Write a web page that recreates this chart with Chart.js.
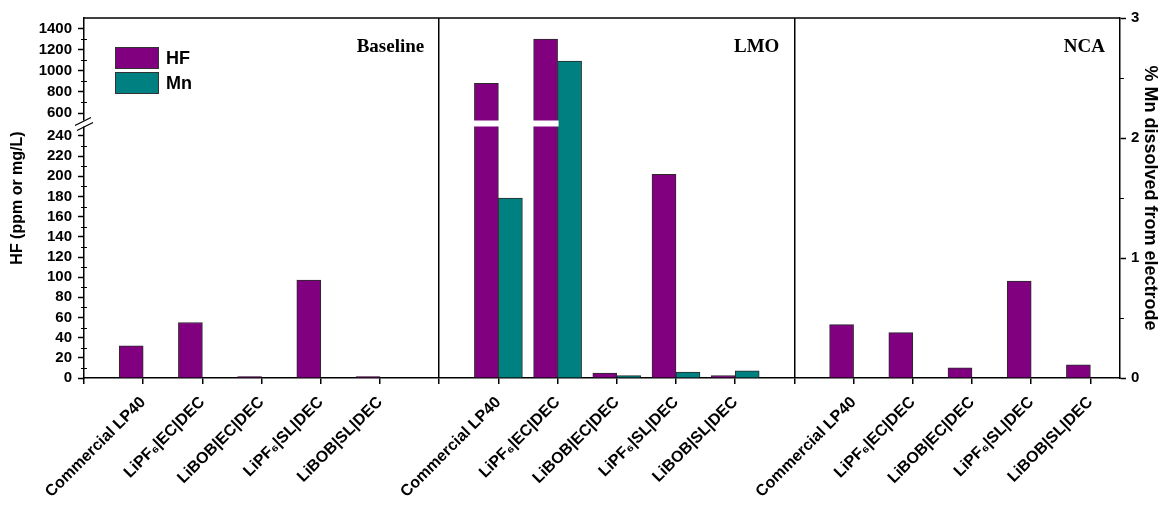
<!DOCTYPE html>
<html>
<head>
<meta charset="utf-8">
<script src="https://cdn.jsdelivr.net/npm/chart.js@4.4.1/dist/chart.umd.min.js"></script>
<style>
  html, body { margin: 0; padding: 0; background: #fff; }
  #wrap { width: 1162px; height: 506px; position: relative; }
</style>
</head>
<body>
<div id="wrap"><canvas id="chart" width="1162" height="506"></canvas></div>
<script>
// ---- data -----------------------------------------------------------------
const panels = ['Baseline', 'LMO', 'NCA'];
const electrolytes = ['Commercial LP40', 'LiPF\u2086|EC|DEC', 'LiBOB|EC|DEC', 'LiPF\u2086|SL|DEC', 'LiBOB|SL|DEC'];

// HF content, ppm (mg/L)
const hfBaseline = [32, 55, 1.5, 97, 1.5];
const hfLMO      = [880, 1300, 5, 202, 2.5];
const hfNCA      = [53, 45, 10, 96, 13];

// Mn dissolved from the electrode, %
const mnBaseline = [null, null, null, null, null];
const mnLMO      = [1.5, 2.64, 0.02, 0.05, 0.06];
const mnNCA      = [null, null, null, null, null];

// axis ticks
const hfTicksLower = [0, 20, 40, 60, 80, 100, 120, 140, 160, 180, 200, 220, 240];
const hfTicksUpper = [600, 800, 1000, 1200, 1400];
const mnTicks = [0, 1, 2, 3];

// ---- broken HF axis ---------------------------------------------------------
const BREAK_LOW = 240, BREAK_HIGH = 600, HF_MAX = 1500;
const SHARE_LOWER = 242 / 360, SHARE_GAP = 23 / 360; // remaining share is the upper span

function hfToFraction(v) {
  if (v <= BREAK_LOW) return v / BREAK_LOW * SHARE_LOWER;
  if (v < BREAK_HIGH) return SHARE_LOWER + (v - BREAK_LOW) / (BREAK_HIGH - BREAK_LOW) * SHARE_GAP;
  return SHARE_LOWER + SHARE_GAP + (v - BREAK_HIGH) / (HF_MAX - BREAK_HIGH) * (1 - SHARE_LOWER - SHARE_GAP);
}
function fractionToHf(f) {
  if (f <= SHARE_LOWER) return f / SHARE_LOWER * BREAK_LOW;
  if (f < SHARE_LOWER + SHARE_GAP) return BREAK_LOW + (f - SHARE_LOWER) / SHARE_GAP * (BREAK_HIGH - BREAK_LOW);
  return BREAK_HIGH + (f - SHARE_LOWER - SHARE_GAP) / (1 - SHARE_LOWER - SHARE_GAP) * (HF_MAX - BREAK_HIGH);
}

class BrokenLinearScale extends Chart.LinearScale {
  static id = 'brokenLinear';
  buildTicks() {
    return hfTicksLower.concat(hfTicksUpper).map(v => ({ value: v }));
  }
  getPixelForValue(value) {
    return this.bottom - hfToFraction(value) * (this.bottom - this.top);
  }
  getValueForPixel(pixel) {
    return fractionToHf((this.bottom - pixel) / (this.bottom - this.top));
  }
}
Chart.register(BrokenLinearScale);

// ---- layout of the category slots --------------------------------------------
const SLOTS_PER_PANEL = electrolytes.length + 1;
const slotOf = (p, i) => p * SLOTS_PER_PANEL + 1 + i;
const toPoints = series => series.flatMap((vals, p) => vals.map((v, i) => ({ x: slotOf(p, i), y: v })));

const SANS = '"Liberation Sans", Arial, sans-serif';
const SERIF = '"Liberation Serif", "Times New Roman", serif';

const framePlugin = {
  id: 'frame',
  afterDatasetsDraw(chart) {
    // white cut through bars that cross the axis break
    const { ctx } = chart;
    const y = chart.scales.yHF;
    const yMid = (y.getPixelForValue(BREAK_LOW) + y.getPixelForValue(BREAK_HIGH)) / 2;
    const meta = chart.getDatasetMeta(0);
    ctx.save();
    ctx.fillStyle = '#fff';
    meta.data.forEach((bar, idx) => {
      const v = chart.data.datasets[0].data[idx].y;
      if (v > BREAK_HIGH) {
        ctx.fillRect(bar.x - bar.width / 2 - 1, yMid - 4, bar.width + 2, 6);
      }
    });
    ctx.restore();
  },
  afterDraw(chart) {
    const { ctx, chartArea: a } = chart;
    const yHF = chart.scales.yHF, yMn = chart.scales.yMn, x = chart.scales.x;
    ctx.save();
    ctx.strokeStyle = '#000';
    ctx.lineWidth = 1.5;
    // top border
    ctx.beginPath();
    ctx.moveTo(a.left, a.top);
    ctx.lineTo(a.right, a.top);
    ctx.stroke();

    // minor ticks on HF axis
    ctx.lineWidth = 1;
    const minorHF = [];
    for (let v = 10; v < BREAK_LOW; v += 20) minorHF.push(v);
    for (let v = 700; v < HF_MAX; v += 200) minorHF.push(v);
    ctx.beginPath();
    minorHF.forEach(v => {
      const py = Math.round(yHF.getPixelForValue(v)) + 0.5;
      ctx.moveTo(a.left - 3, py);
      ctx.lineTo(a.left + 3, py);
    });
    // minor ticks on Mn axis
    [0.5, 1.5, 2.5].forEach(v => {
      const py = Math.round(yMn.getPixelForValue(v)) + 0.5;
      ctx.moveTo(a.right, py);
      ctx.lineTo(a.right + 4, py);
    });
    ctx.stroke();

    // axis break marks
    const yMid = (yHF.getPixelForValue(BREAK_LOW) + yHF.getPixelForValue(BREAK_HIGH)) / 2;
    ctx.fillStyle = '#fff';
    ctx.fillRect(a.left - 2, yMid - 4, 4, 6);
    ctx.lineWidth = 1.3;
    ctx.beginPath();
    ctx.moveTo(a.left - 9, yMid + 1);
    ctx.lineTo(a.left + 7, yMid - 7);
    ctx.moveTo(a.left - 7, yMid + 6);
    ctx.lineTo(a.left + 9, yMid - 2);
    ctx.stroke();

    // legend
    ctx.font = 'bold 18px ' + SANS;
    ctx.textBaseline = 'middle';
    ctx.textAlign = 'left';
    chart.data.datasets.forEach((ds, i) => {
      const bx = a.left + 31, by = a.top + 29 + i * 25;
      ctx.fillStyle = ds.backgroundColor;
      ctx.fillRect(bx, by, 44, 22);
      ctx.strokeStyle = '#333';
      ctx.lineWidth = 1;
      ctx.strokeRect(bx + 0.5, by + 0.5, 43, 21);
      ctx.fillStyle = '#000';
      ctx.fillText(ds.label, bx + 51, by + 12);
    });

    // panel names
    ctx.font = 'bold 19px ' + SERIF;
    ctx.textAlign = 'right';
    ctx.textBaseline = 'alphabetic';
    ctx.fillStyle = '#000';
    panels.forEach((name, p) => {
      const right = p < panels.length - 1 ? x.getPixelForValue((p + 1) * SLOTS_PER_PANEL) : a.right;
      ctx.fillText(name, right - 15, a.top + 34);
    });
    ctx.restore();
  }
};

new Chart(document.getElementById('chart'), {
  type: 'bar',
  data: {
    datasets: [
      {
        label: 'HF',
        data: toPoints([hfBaseline, hfLMO, hfNCA]),
        yAxisID: 'yHF',
        backgroundColor: '#800080',
        borderColor: '#2a2a2a',
        borderWidth: 1,
        barThickness: 24
      },
      {
        label: 'Mn',
        data: toPoints([mnBaseline, mnLMO, mnNCA]),
        yAxisID: 'yMn',
        backgroundColor: '#008080',
        borderColor: '#2a2a2a',
        borderWidth: 1,
        barThickness: 24
      }
    ]
  },
  options: {
    responsive: false,
    animation: false,
    layout: { padding: { top: 18, left: 0, right: 0, bottom: 0 } },
    plugins: { legend: { display: false }, tooltip: { enabled: false } },
    scales: {
      x: {
        type: 'linear',
        offset: false,
        min: 0,
        max: SLOTS_PER_PANEL * panels.length - 0.5,
        afterBuildTicks: s => {
          const ticks = [];
          for (let k = 0; k < SLOTS_PER_PANEL * panels.length; k++) ticks.push({ value: k });
          s.ticks = ticks;
        },
        afterFit: s => { s.height = 128; },
        ticks: {
          autoSkip: false,
          maxRotation: 45,
          minRotation: 45,
          padding: 9,
          color: '#000',
          font: { family: SANS, size: 16, weight: 'bold' },
          callback: v => (v % SLOTS_PER_PANEL === 0 ? '' : electrolytes[(v % SLOTS_PER_PANEL) - 1])
        },
        grid: {
          offset: false,
          drawOnChartArea: true,
          color: c => (c.tick && c.tick.value > 0 && c.tick.value % SLOTS_PER_PANEL === 0 ? '#000' : 'rgba(0,0,0,0)'),
          lineWidth: 1.5,
          tickColor: '#000',
          tickWidth: 1.5,
          tickLength: 6
        },
        border: { display: true, color: '#000', width: 1.5 }
      },
      yHF: {
        type: 'brokenLinear',
        position: 'left',
        min: 0,
        max: HF_MAX,
        afterFit: s => { s.width = 84; },
        ticks: {
          color: '#000',
          padding: 6,
          font: { family: SANS, size: 15, weight: 'bold' },
          callback: v => String(v)
        },
        grid: { drawOnChartArea: false, tickColor: '#000', tickWidth: 1.5, tickLength: 6 },
        border: { display: true, color: '#000', width: 1.5 },
        title: {
          display: true,
          text: 'HF (ppm or mg/L)',
          color: '#000',
          font: { family: SANS, size: 16, weight: 'bold' },
          padding: { top: 8, bottom: 0 }
        }
      },
      yMn: {
        type: 'linear',
        position: 'right',
        min: mnTicks[0],
        max: mnTicks[mnTicks.length - 1],
        afterBuildTicks: s => { s.ticks = mnTicks.map(v => ({ value: v })); },
        afterFit: s => { s.width = 42; },
        ticks: {
          color: '#000',
          padding: 5,
          font: { family: SANS, size: 15, weight: 'bold' },
          callback: v => String(v)
        },
        grid: { drawOnChartArea: false, tickColor: '#000', tickWidth: 1.5, tickLength: 6 },
        border: { display: true, color: '#000', width: 1.5 },
        title: {
          display: true,
          text: '% Mn dissolved from electrode',
          color: '#000',
          font: { family: SANS, size: 18, weight: 'bold' },
          padding: { top: 1, bottom: 0 }
        }
      }
    }
  },
  plugins: [framePlugin]
});
</script>
</body>
</html>
